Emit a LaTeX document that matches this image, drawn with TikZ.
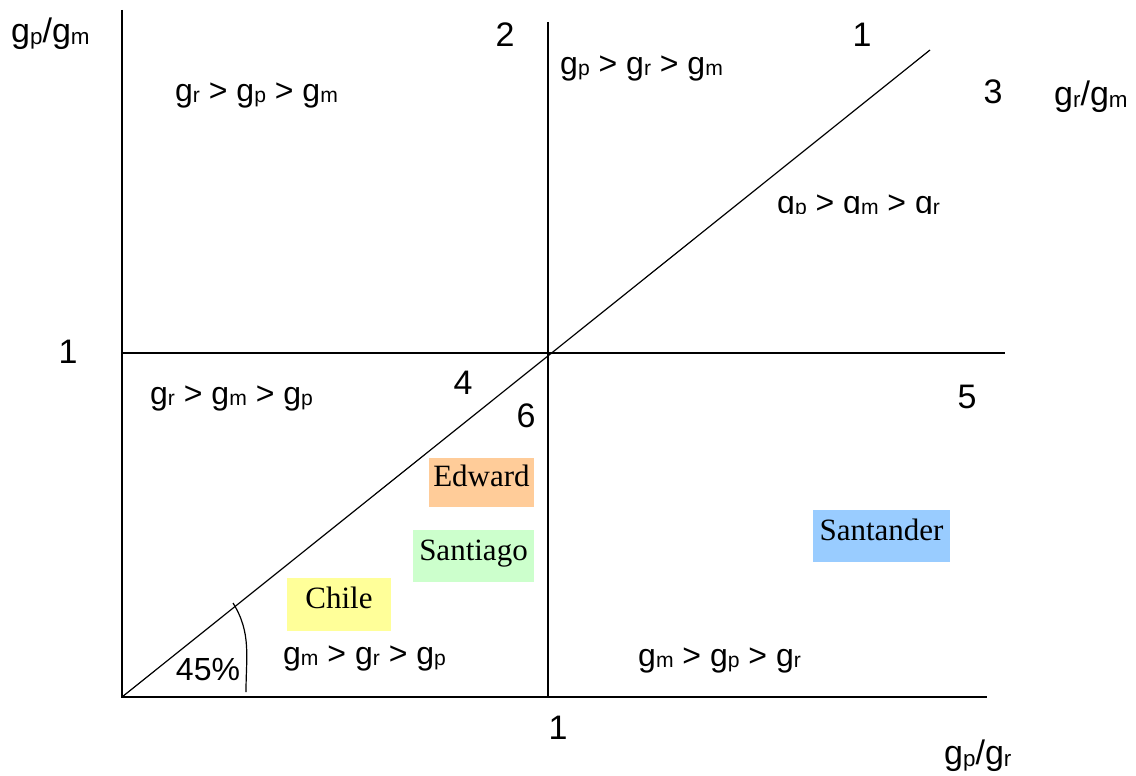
\documentclass[tikz,border=0pt]{standalone}
\usepackage{fontspec}
\setmainfont{Liberation Sans}
\newfontfamily\namefont{Liberation Serif}
\usetikzlibrary{positioning}
\definecolor{edwardfill}{RGB}{255,204,153}
\definecolor{santiagofill}{RGB}{204,255,204}
\definecolor{chilefill}{RGB}{255,255,153}
\definecolor{santanderfill}{RGB}{153,204,255}
\newcommand{\gsub}[1]{g\raisebox{-0.06em}{\scalebox{0.66}{#1}}}

\begin{document}
\begin{tikzpicture}[
      x=1pt, y=-1pt,
      every node/.style={font=\fontsize{32}{34}\selectfont, inner sep=0pt},
      axis/.style={line width=1.6pt},
      diag/.style={line width=1.2pt},
      ranking/.style={anchor=west},
      title/.style={anchor=west, font=\fontsize{34}{36}\selectfont},
      zone/.style={font=\fontsize{34}{36}\selectfont},
      city/.style={font=\namefont\fontsize{31}{33}\selectfont, inner sep=0pt,
        text height=1.05em, text depth=0.2em}
  ]
    \useasboundingbox (0,0) rectangle (1136,776);
    % axes
    \coordinate (O) at (122,697);
    \coordinate (ytop) at (122,10);
    \coordinate (xend) at (987,697);
    \coordinate (mtop) at (548,22);
    \coordinate (mbot) at (548,697);
    \coordinate (hleft) at (122,353);
    \coordinate (hright) at (1005,353);
    \coordinate (dend) at (930,50);
    \draw[axis] (ytop) -- (O) -- (xend);
    \draw[axis] (mtop) -- (mbot);
    \draw[axis] (hleft) -- (hright);
    \draw[diag] (O) -- (dend);
    % 45 degree mark
    \coordinate (arcA) at (233,603);
    \coordinate (arcB) at (246,692);
    \draw[diag] (arcA) to[out=-58, in=90] (arcB);
    \node (ang) at (208,670) {45\%};
    % axis titles
    \node[title] (ylab) at (11,34) {\gsub{p}/\gsub{m}};
    \node[title] (dlab) at (1054,97) {\gsub{r}/\gsub{m}};
    \node[title] (xlab) at (944,756) {\gsub{p}/\gsub{r}};
    \node[zone] (yone) at (68,352) {1};
    \node[zone] (xone) at (558,728) {1};
    % zone numbers
    \node[zone] (z1) at (862,35) {1};
    \node[zone] (z2) at (505,35) {2};
    \node[zone] (z3) at (993,92) {3};
    \node[zone] (z4) at (463,383) {4};
    \node[zone] (z5) at (967,397) {5};
    \node[zone] (z6) at (526,416) {6};
    % orderings
    \node[ranking] (r1) at (560,68) {\gsub{p} > \gsub{r} > \gsub{m}};
    \node[ranking] (r2) at (175,95) {\gsub{r} > \gsub{p} > \gsub{m}};
    \begin{scope}
      \clip (700,170) rectangle (1000,213);
      \node[anchor=base west] (r3) at (777,213) {\gsub{p} > \gsub{m} > \gsub{r}};
    \end{scope}
    \node[ranking] (r4) at (150,398) {\gsub{r} > \gsub{m} > \gsub{p}};
    \node[ranking] (r5) at (283,658) {\gsub{m} > \gsub{r} > \gsub{p}};
    \node[ranking] (r6) at (638,660) {\gsub{m} > \gsub{p} > \gsub{r}};
    % cases
    \node[city, fill=edwardfill, minimum width=105, minimum height=49] (edward) at (481.5,482.5) {Edward};
    \node[city, fill=santiagofill, minimum width=121, minimum height=52] (santiago) at (473.5,556) {Santiago};
    \node[city, fill=chilefill, minimum width=104, minimum height=53] (chile) at (339,604.5) {Chile};
    \node[city, fill=santanderfill, minimum width=137, minimum height=52] (santander) at (881.5,536) {Santander};
  \end{tikzpicture}
\end{document}
